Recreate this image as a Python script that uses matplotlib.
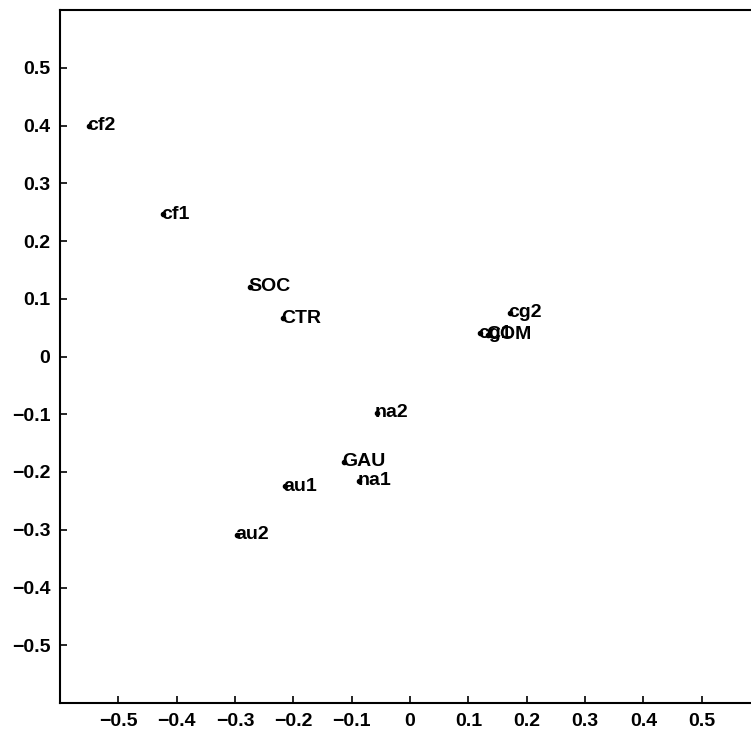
import numpy as np
import matplotlib
matplotlib.use("Agg")
import matplotlib.pyplot as plt

# punkty i etykiety
labels = ["cf2", "cf1", "SOC", "CTR", "cg2", "cg1", "COM",
          "na2", "GAU", "na1", "au1", "au2"]
xs = [-0.551, -0.423, -0.274, -0.217, 0.171, 0.120, 0.134,
      -0.057, -0.113, -0.087, -0.214, -0.296]
ys = [0.400, 0.246, 0.121, 0.066, 0.076, 0.040, 0.038,
      -0.097, -0.182, -0.215, -0.225, -0.309]

xticks = [-0.5, -0.4, -0.3, -0.2, -0.1, 0, 0.1, 0.2, 0.3, 0.4, 0.5]
yticks = [-0.5, -0.4, -0.3, -0.2, -0.1, 0, 0.1, 0.2, 0.3, 0.4, 0.5]

plt.rcParams['font.family'] = ['Liberation Sans', 'DejaVu Sans']

fig = plt.figure(figsize=(7.51, 7.36), dpi=100)
W, H = 751, 736
# prawa krawedz osi poza obrazem (jak w oryginale)
ax = fig.add_axes([60 / W, (H - 703) / H, 700 / W, 693 / H])

ax.plot(xs, ys, 'o', color='black', markersize=3)
for x, y, t in zip(xs, ys, labels):
    ax.text(x - 0.003, y, t, ha='left', va='center', fontsize=14,
            fontweight='bold', color='black')

ax.set_xlim(-0.6, 0.6)
ax.set_ylim(-0.6, 0.6)
ax.set_xticks(xticks)
ax.set_yticks(yticks)
fmt = matplotlib.ticker.FuncFormatter(
    lambda v, p: ("%g" % round(v, 2)).replace("-", "\u2212"))
ax.xaxis.set_major_formatter(fmt)
ax.yaxis.set_major_formatter(fmt)
ax.tick_params(direction='in', length=5, width=1.2, labelsize=14,
               pad=7)
for lab in ax.get_xticklabels() + ax.get_yticklabels():
    lab.set_fontweight('bold')
for s in ax.spines.values():
    s.set_linewidth(1.5)

fig.savefig("out.png", dpi=100)
